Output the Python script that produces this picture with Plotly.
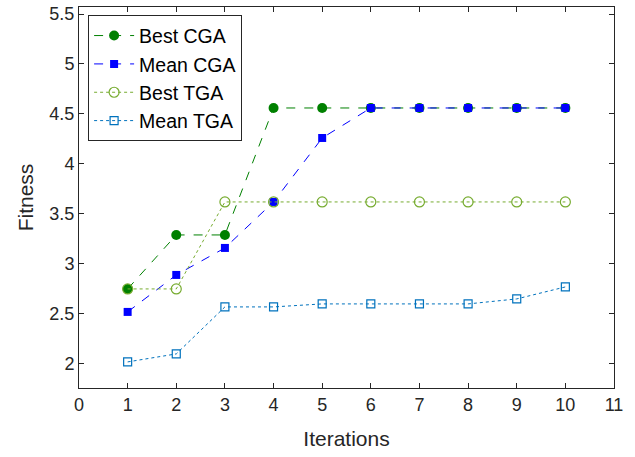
import plotly.graph_objects as go

iterations = [1, 2, 3, 4, 5, 6, 7, 8, 9, 10]
best_cga = [2.75, 3.29, 3.29, 4.56, 4.56, 4.56, 4.56, 4.56, 4.56, 4.56]
mean_cga = [2.52, 2.89, 3.16, 3.62, 4.26, 4.56, 4.56, 4.56, 4.56, 4.56]
best_tga = [2.75, 2.75, 3.62, 3.62, 3.62, 3.62, 3.62, 3.62, 3.62, 3.62]
mean_tga = [2.02, 2.10, 2.57, 2.57, 2.60, 2.60, 2.60, 2.60, 2.65, 2.77]

x_ticks = list(range(0, 12))
y_ticks = [2, 2.5, 3, 3.5, 4, 4.5, 5, 5.5]
y_tick_labels = ["2", "2.5", "3", "3.5", "4", "4.5", "5", "5.5"]

fig = go.Figure()
fig.add_trace(go.Scatter(x=iterations, y=best_cga, name="Best CGA", mode="lines+markers",
                         line=dict(color="#008000", dash="dash", width=1),
                         marker=dict(symbol="circle", size=10, color="#008000")))
fig.add_trace(go.Scatter(x=iterations, y=mean_cga, name="Mean CGA", mode="lines+markers",
                         line=dict(color="#0000FF", dash="dash", width=1),
                         marker=dict(symbol="square", size=8, color="#0000FF")))
fig.add_trace(go.Scatter(x=iterations, y=best_tga, name="Best TGA", mode="lines+markers",
                         line=dict(color="#77AC30", dash="dot", width=1),
                         marker=dict(symbol="circle-open", size=10, color="#77AC30", line=dict(width=1.2))))
fig.add_trace(go.Scatter(x=iterations, y=mean_tga, name="Mean TGA", mode="lines+markers",
                         line=dict(color="#0072BD", dash="dot", width=1),
                         marker=dict(symbol="square-open", size=8, color="#0072BD", line=dict(width=1.2))))

axis_common = dict(showline=True, linecolor="#262626", linewidth=1, mirror="ticks",
                   ticks="inside", ticklen=5, tickcolor="#262626", showgrid=False, zeroline=False,
                   automargin=False, ticklabeloverflow="allow",
                   tickfont=dict(family="Liberation Sans, Arial", size=18, color="#262626"))

fig.update_xaxes(range=[0, 11], tickvals=x_ticks,
                 title=dict(text="Iterations", font=dict(size=21, color="#262626"), standoff=17),
                 **axis_common)
fig.update_yaxes(range=[1.759, 5.57], tickvals=y_ticks, ticktext=y_tick_labels,
                 title=dict(text="Fitness", font=dict(size=21, color="#262626"), standoff=10),
                 **axis_common)

fig.update_layout(
    width=635, height=457,
    margin=dict(l=79, r=21, t=7, b=69),
    plot_bgcolor="white", paper_bgcolor="white",
    font=dict(family="Liberation Sans, Arial", color="#000000"),
    showlegend=True,
    legend=dict(x=0.017, y=0.978, xanchor="left", yanchor="top",
                bordercolor="#262626", borderwidth=1, bgcolor="white",
                font=dict(size=19.5, color="#000000"), tracegroupgap=0,
                itemwidth=40),
)

fig.write_html("out.html", config={"displayModeBar": False},
               post_script="document.body.style.margin='0';")
